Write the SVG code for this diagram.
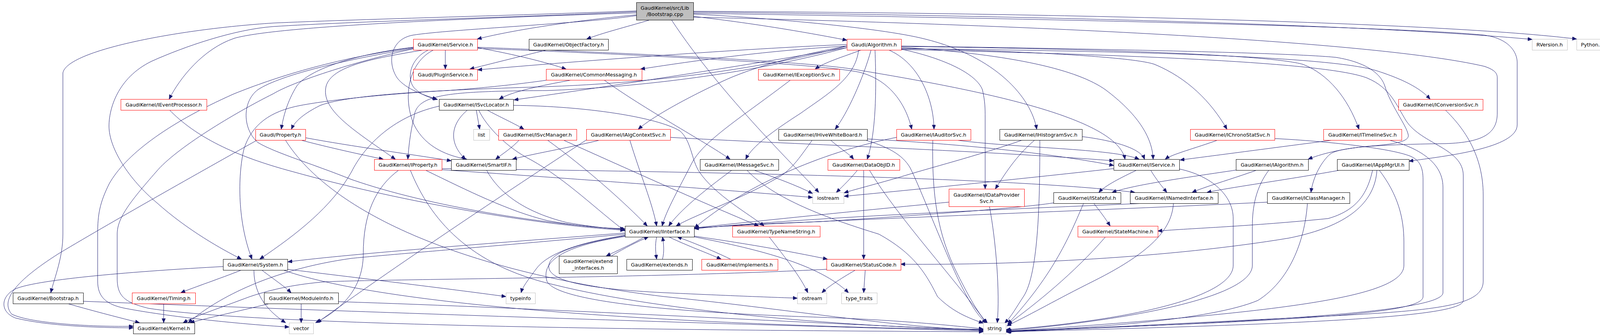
<svg xmlns="http://www.w3.org/2000/svg" width="4120" height="861" viewBox="0 0 4120 861">
<style>
.node rect{fill:#ffffff;stroke-width:1}
.r rect{stroke:#ff0000}
.k rect{stroke:#000000}
.g rect{stroke:#bfbfbf}
.root rect{fill:#bfbfbf;stroke:#000000}
text{font-family:"DejaVu Sans","Liberation Sans",sans-serif;font-size:12.8px;text-anchor:middle;fill:#000000}
#edges path{fill:none;stroke:#191970;stroke-width:1}
</style>
<defs>
<marker id="arr" markerWidth="12" markerHeight="10" refX="11" refY="4.5" orient="auto" markerUnits="userSpaceOnUse">
<path d="M0,0 L11,4.5 L0,9 z" fill="#191970" stroke="#191970" stroke-width="1"/>
</marker>
</defs>
<rect x="0" y="0" width="4120" height="861" fill="#ffffff"/>
<g id="edges" marker-end="url(#arr)">
<path marker-end="url(#arr)" d="M1629,38 C1450,55 1300,80 1222,100"/>
<path marker-end="url(#arr)" d="M1664,51 C1600,70 1540,85 1502,100"/>
<path marker-end="url(#arr)" d="M1775,42 C1950,62 2090,88 2168,103"/>
<path marker-end="url(#arr)" d="M1775,31 C2600,40 3500,62 3922,101"/>
<path marker-end="url(#arr)" d="M1775,29 C2700,33 3700,58 4036,100"/>
<path marker-end="url(#arr)" d="M1629,33 C1100,50 700,70 600,98 C520,125 460,200 433,254"/>
<path marker-end="url(#arr)" d="M1629,28 C1300,40 900,50 700,59 C450,75 170,130 161,187 L161,600 C161,660 140,710 130,750"/>
<path marker-end="url(#arr)" d="M1629,30 C1300,45 900,55 700,68 C600,75 470,120 388,157 C300,200 279,280 279,323 C279,380 330,460 402,520 C480,590 570,640 618,664"/>
<path marker-end="url(#arr)" d="M1629,40 C1500,60 1150,75 1057,90 C1000,100 990,160 1017,200 C1040,230 1090,245 1118,254"/>
<path marker-end="url(#arr)" d="M1719,51 C1850,250 2050,440 2096,493"/>
<path marker-end="url(#arr)" d="M1775,36 C1950,45 2250,70 2368,100 C2550,145 2640,250 2654,331"/>
<path marker-end="url(#arr)" d="M1775,34 C2800,50 3600,70 3800,90 C3870,100 3884,140 3884,160 L3884,320 C3884,380 3700,400 3607,413"/>
<path marker-end="url(#arr)" d="M1775,44 C2500,60 3500,100 3800,170 C3830,180 3833,190 3833,200 L3833,290 C3833,340 3800,365 3700,368 C3560,370 3430,375 3405,395 C3385,412 3362,450 3356,493"/>
<path marker-end="url(#arr)" d="M1140,128 L1140,177"/>
<path marker-end="url(#arr)" d="M1222,122 C1320,140 1400,160 1449,177"/>
<path marker-end="url(#arr)" d="M1097,128 C1050,150 1040,200 1060,225 C1080,245 1100,250 1120,255"/>
<path marker-end="url(#arr)" d="M1110,128 C1045,160 1030,250 1060,320 C1090,380 1150,400 1195,408"/>
<path marker-end="url(#arr)" d="M1085,128 C950,150 850,170 835,220 C820,280 900,330 1012,408"/>
<path marker-end="url(#arr)" d="M1058,121 C900,140 790,180 760,220 C735,260 725,300 720,331"/>
<path marker-end="url(#arr)" d="M1222,121 C1700,140 2100,160 2200,180 C2500,230 2860,300 2880,408"/>
<path marker-end="url(#arr)" d="M1222,124 C1700,142 2100,165 2200,185 C2280,205 2320,270 2334,331"/>
<path marker-end="url(#arr)" d="M1058,122 C850,150 700,200 600,240 C420,320 320,400 280,470 C255,520 250,550 250,600 L250,720 C250,760 270,780 320,790 C450,815 650,833 740,838"/>
<path marker-end="url(#arr)" d="M1058,125 C900,160 750,210 700,240 C600,290 450,380 400,440 C330,520 300,560 300,600 L300,713 C300,760 320,775 380,790 C700,840 2000,848 2517,850"/>
<path marker-end="url(#arr)" d="M1058,124 C900,150 720,190 660,230 C620,260 620,330 660,365 C700,390 800,420 900,460 C1100,530 1400,575 1599,588"/>
<path marker-end="url(#arr)" d="M1400,128 C1330,145 1250,165 1203,177"/>
<path marker-end="url(#arr)" d="M2168,114 C1900,125 1500,155 1223,179"/>
<path marker-end="url(#arr)" d="M2168,118 C1950,130 1750,160 1640,177"/>
<path marker-end="url(#arr)" d="M2205,128 C2160,145 2110,160 2087,177"/>
<path marker-end="url(#arr)" d="M2168,122 C1900,170 1500,230 1316,256"/>
<path marker-end="url(#arr)" d="M2168,118 C1900,190 1600,215 1400,222 C1150,230 900,240 820,270 C780,290 755,310 746,331"/>
<path marker-end="url(#arr)" d="M2168,122 C1900,195 1600,225 1400,232 C1150,234 1065,240 1060,300 C1050,340 1046,380 1044,408"/>
<path marker-end="url(#arr)" d="M2168,118 C2050,140 1930,170 1846,210 C1750,255 1670,300 1634,331"/>
<path marker-end="url(#arr)" d="M2230,128 C2210,200 2170,290 2138,331"/>
<path marker-end="url(#arr)" d="M2275,128 C2350,160 2390,250 2391,331"/>
<path marker-end="url(#arr)" d="M2240,128 C2245,250 2240,350 2220,408"/>
<path marker-end="url(#arr)" d="M2307,126 C2420,150 2500,190 2515,230 C2522,260 2522,280 2522,300 L2522,484"/>
<path marker-end="url(#arr)" d="M2198,128 C2190,200 2120,240 2050,290 C1980,335 1925,375 1909,408"/>
<path marker-end="url(#arr)" d="M2307,121 C2600,140 2760,180 2830,230 C2910,290 2950,350 2952,408"/>
<path marker-end="url(#arr)" d="M2307,124 C2600,130 2900,145 2956,165 C3040,200 3100,260 3141,331"/>
<path marker-end="url(#arr)" d="M2307,119 C2800,125 3250,140 3336,165 C3400,190 3450,250 3479,331"/>
<path marker-end="url(#arr)" d="M2307,125 C2900,130 3400,145 3520,180 C3600,205 3640,230 3661,254"/>
<path marker-end="url(#arr)" d="M2307,118 C2800,125 3300,135 3420,147 C3500,160 3535,190 3545,220 C3560,270 3600,320 3605,345 C3610,365 3560,370 3500,375 C3430,382 3380,395 3349,408"/>
<path marker-end="url(#arr)" d="M2307,127 C2900,140 3400,160 3500,200 C3560,225 3575,270 3600,310 C3640,370 3746,380 3746,450 L3746,770 C3746,810 3400,830 2578,850"/>
<path marker-end="url(#arr)" d="M1219,281 L1228,331"/>
<path marker-end="url(#arr)" d="M1245,281 C1280,300 1320,318 1341,331"/>
<path marker-end="url(#arr)" d="M1198,281 C1150,320 1150,370 1192,408"/>
<path marker-end="url(#arr)" d="M1225,281 C1245,325 1300,380 1360,410 C1450,460 1530,540 1600,592"/>
<path marker-end="url(#arr)" d="M1314,270 C1500,272 1680,300 1740,335 C1770,360 1770,410 1790,440 C1830,500 1920,550 1956,579"/>
<path marker-end="url(#arr)" d="M1124,272 C1000,300 930,380 900,440 C850,530 760,600 665,664"/>
<path marker-end="url(#arr)" d="M1330,358 C1310,380 1285,395 1269,408"/>
<path marker-end="url(#arr)" d="M1400,358 C1500,430 1600,520 1657,579"/>
<path marker-end="url(#arr)" d="M1440,358 C1600,430 1800,520 1942,579"/>
<path marker-end="url(#arr)" d="M1612,358 C1640,450 1670,520 1681,579"/>
<path marker-end="url(#arr)" d="M1540,358 C1450,380 1360,395 1312,408"/>
<path marker-end="url(#arr)" d="M1502,358 C1300,490 1000,690 812,827"/>
<path marker-end="url(#arr)" d="M1716,352 C2000,368 2500,385 2851,412"/>
<path marker-end="url(#arr)" d="M2025,204 C1900,300 1800,360 1770,420 C1740,480 1705,540 1695,579"/>
<path marker-end="url(#arr)" d="M1875,435 C1800,490 1740,540 1712,579"/>
<path marker-end="url(#arr)" d="M1927,435 C2000,460 2050,480 2080,496"/>
<path marker-end="url(#arr)" d="M1911,435 C1980,510 2120,560 2250,600 C2340,650 2370,700 2400,760 C2440,800 2480,815 2517,828"/>
<path marker-end="url(#arr)" d="M2080,358 C2050,400 2030,430 2000,450 C1900,510 1780,550 1731,579"/>
<path marker-end="url(#arr)" d="M2125,358 C2150,380 2175,395 2185,408"/>
<path marker-end="url(#arr)" d="M2212,358 C2270,375 2310,395 2330,430 C2360,490 2420,650 2460,730 C2490,790 2505,810 2525,828"/>
<path marker-end="url(#arr)" d="M2220,356 C2500,372 2700,395 2851,424"/>
<path marker-end="url(#arr)" d="M2440,358 C2600,380 2850,380 2916,408"/>
<path marker-end="url(#arr)" d="M2388,358 C2385,500 2400,600 2450,700 C2490,780 2510,810 2528,828"/>
<path marker-end="url(#arr)" d="M2295,352 C2100,390 1900,480 1778,584"/>
<path marker-end="url(#arr)" d="M2650,358 C2600,400 2570,450 2548,484"/>
<path marker-end="url(#arr)" d="M2620,358 C2500,400 2380,430 2300,455 C2230,475 2190,485 2161,494"/>
<path marker-end="url(#arr)" d="M2770,350 C2850,360 2920,380 2930,408"/>
<path marker-end="url(#arr)" d="M2662,358 C2662,500 2660,700 2620,760 C2600,790 2590,810 2572,828"/>
<path marker-end="url(#arr)" d="M2429,518 C2200,540 1950,565 1778,584"/>
<path marker-end="url(#arr)" d="M2533,529 C2550,620 2560,750 2553,827"/>
<path marker-end="url(#arr)" d="M2196,435 C2180,455 2160,475 2141,493"/>
<path marker-end="url(#arr)" d="M2211,435 L2211,664"/>
<path marker-end="url(#arr)" d="M2225,435 C2300,560 2450,720 2525,828"/>
<path marker-end="url(#arr)" d="M2912,435 C2870,455 2830,475 2813,493"/>
<path marker-end="url(#arr)" d="M2945,435 C2960,460 2975,478 2987,493"/>
<path marker-end="url(#arr)" d="M3019,433 C3100,450 3157,500 3157,560 L3157,680 C3157,760 2900,820 2575,845"/>
<path marker-end="url(#arr)" d="M2851,432 C2600,460 2300,490 2161,503"/>
<path marker-end="url(#arr)" d="M3170,435 C3000,460 2900,475 2847,493"/>
<path marker-end="url(#arr)" d="M3220,435 C3150,460 3080,480 3052,493"/>
<path marker-end="url(#arr)" d="M3249,435 C3215,480 3206,530 3206,580 L3206,680 C3206,760 2900,820 2576,847"/>
<path marker-end="url(#arr)" d="M3436,435 C3300,460 3150,480 3090,493"/>
<path marker-end="url(#arr)" d="M3514,435 C3500,500 3470,540 3400,560 C3200,580 3050,585 2964,592"/>
<path marker-end="url(#arr)" d="M3525,435 C3520,520 3450,580 3300,610 C3000,660 2600,680 2306,677"/>
<path marker-end="url(#arr)" d="M3530,435 C3580,500 3594,560 3594,620 L3594,680 C3594,760 3300,800 2576,849"/>
<path marker-end="url(#arr)" d="M2930,521 C2600,535 2100,555 1778,586"/>
<path marker-end="url(#arr)" d="M3004,521 C3000,580 2960,640 2800,720 C2700,770 2650,800 2578,835"/>
<path marker-end="url(#arr)" d="M2800,521 C2815,540 2830,560 2842,579"/>
<path marker-end="url(#arr)" d="M2697,520 C2600,535 2300,555 2100,568 C1950,573 1850,578 1778,586"/>
<path marker-end="url(#arr)" d="M2774,521 C2740,600 2700,700 2580,830"/>
<path marker-end="url(#arr)" d="M3244,518 C2800,540 2200,560 1778,584"/>
<path marker-end="url(#arr)" d="M3347,521 C3340,620 3300,720 3220,770 C3100,820 2800,840 2576,850"/>
<path marker-end="url(#arr)" d="M2830,607 C2750,700 2650,780 2580,831"/>
<path marker-end="url(#arr)" d="M1600,597 C1300,620 900,650 737,671"/>
<path marker-end="url(#arr)" d="M1600,600 C1300,628 1000,652 900,662 C700,690 560,760 482,827"/>
<path marker-end="url(#arr)" d="M1777,605 C1950,630 2050,650 2118,664"/>
<path marker-end="url(#arr)" d="M1600,604 C1480,625 1410,645 1405,680 C1400,720 1500,740 1700,750 C1850,757 1980,762 2041,764"/>
<path marker-end="url(#arr)" d="M1777,607 C1950,640 2100,680 2172,750"/>
<path marker-end="url(#arr)" d="M1600,603 C1480,622 1400,650 1372,690 C1350,720 1338,735 1334,750"/>
<path marker-end="url(#arr)" d="M1650,607 C1620,625 1585,640 1552,656"/>
<path marker-end="url(#arr)" d="M1681,607 C1676,630 1679,650 1681,664"/>
<path marker-end="url(#arr)" d="M1712,607 C1760,630 1810,648 1846,664"/>
<path marker-end="url(#arr)" d="M1565,656 C1600,635 1630,620 1660,607"/>
<path marker-end="url(#arr)" d="M1696,664 C1701,645 1699,625 1696,607"/>
<path marker-end="url(#arr)" d="M1870,664 C1820,640 1770,620 1734,607"/>
<path marker-end="url(#arr)" d="M1600,606 C1440,630 1385,670 1400,720 C1420,770 1700,800 2100,813 C2300,820 2450,835 2517,843"/>
<path marker-end="url(#arr)" d="M1969,607 C2010,660 2050,710 2068,750"/>
<path marker-end="url(#arr)" d="M2190,692 C2150,715 2120,735 2104,750"/>
<path marker-end="url(#arr)" d="M2215,692 L2211,750"/>
<path marker-end="url(#arr)" d="M2116,690 C1700,712 1000,715 834,722 C760,728 700,740 640,760 C560,790 500,810 469,827"/>
<path marker-end="url(#arr)" d="M173,778 C250,800 310,815 357,827"/>
<path marker-end="url(#arr)" d="M213,772 C800,795 1800,830 2517,848"/>
<path marker-end="url(#arr)" d="M419,778 L419,827"/>
<path marker-end="url(#arr)" d="M690,778 C600,800 530,815 487,827"/>
<path marker-end="url(#arr)" d="M771,778 L771,827"/>
<path marker-end="url(#arr)" d="M866,773 C1400,790 2000,825 2517,846"/>
<path marker-end="url(#arr)" d="M571,683 C350,695 100,715 40,740 C0,760 0,800 40,815 C120,835 250,840 341,840"/>
<path marker-end="url(#arr)" d="M618,692 C560,715 500,735 463,750"/>
<path marker-end="url(#arr)" d="M670,692 C700,715 730,735 745,750"/>
<path marker-end="url(#arr)" d="M650,692 C650,760 690,800 731,827"/>
<path marker-end="url(#arr)" d="M736,690 C900,710 1150,740 1295,760"/>
<path marker-end="url(#arr)" d="M725,692 C1000,790 1800,835 2517,845"/>
<path marker-end="url(#arr)" d="M660,358 C550,420 300,560 150,650 C40,720 0,770 30,805 C80,830 250,838 341,836"/>
<path marker-end="url(#arr)" d="M766,358 C850,380 920,395 981,408"/>
<path marker-end="url(#arr)" d="M782,353 C900,375 1050,395 1155,412"/>
<path marker-end="url(#arr)" d="M730,358 C850,550 1200,700 1700,760 C2000,790 2300,840 2517,846"/>
<path marker-end="url(#arr)" d="M1087,435 C1200,490 1300,540 1400,565 C1480,580 1550,585 1599,586"/>
<path marker-end="url(#arr)" d="M1131,435 C1500,460 1900,490 2080,506"/>
<path marker-end="url(#arr)" d="M1131,432 C1800,440 2600,455 2905,493"/>
<path marker-end="url(#arr)" d="M1022,435 C960,480 930,550 930,650 C930,750 860,800 808,827"/>
<path marker-end="url(#arr)" d="M1050,435 C1100,560 1200,680 1420,730 C1700,800 2200,840 2517,844"/>
<path marker-end="url(#arr)" d="M1245,435 C1280,500 1350,545 1450,570 C1520,582 1560,586 1599,587"/>
<path marker-end="url(#arr)" d="M1469,204 C1380,220 1310,235 1278,254"/>
<path marker-end="url(#arr)" d="M1545,204 C1650,280 1800,360 1869,408"/>
<path marker-end="url(#arr)" d="M1410,204 C1300,220 1200,228 1146,232 C1000,240 850,255 770,270 C690,285 645,320 625,380 C610,440 605,560 645,664"/>
<path marker-end="url(#arr)" d="M433,281 C500,350 600,400 750,440 C1000,510 1350,575 1599,590"/>
<path marker-end="url(#arr)" d="M3699,281 C3750,330 3797,400 3797,500 L3797,720 C3797,780 3700,795 3400,810 C3000,830 2700,845 2576,851"/>
<path marker-end="url(#arr)" d="M3120,358 C3060,380 3000,395 2983,408"/>
<path marker-end="url(#arr)" d="M3263,355 C3400,362 3560,380 3610,400 C3635,410 3643,430 3643,460 L3643,760 C3643,800 3400,820 2578,848"/>
<path marker-end="url(#arr)" d="M3420,358 C3250,380 3100,400 3021,410"/>
<path marker-end="url(#arr)" d="M3552,358 C3620,375 3694,410 3694,480 L3694,750 C3694,790 3400,820 2578,849"/>
</g>
<g id="n-root" class="node root"><rect x="1629.5" y="6.5" width="146" height="45"/><text x="1702" y="24.5">GaudiKernel/src/Lib</text><text x="1702" y="41">/Bootstrap.cpp</text></g>
<g id="n-service" class="node r"><rect x="1058.5" y="100.5" width="164" height="28"/><text x="1140" y="118.5">GaudiKernel/Service.h</text></g>
<g id="n-objfact" class="node k"><rect x="1354.5" y="100.5" width="203" height="28"/><text x="1455.5" y="118.5">GaudiKernel/ObjectFactory.h</text></g>
<g id="n-algo" class="node r"><rect x="2168.5" y="100.5" width="139" height="28"/><text x="2237.5" y="118.5">Gaudi/Algorithm.h</text></g>
<g id="n-rversion" class="node g"><rect x="3922.5" y="100.5" width="90" height="28"/><text x="3967" y="118.5">RVersion.h</text></g>
<g id="n-python" class="node g"><rect x="4036.5" y="100.5" width="79" height="28"/><text x="4075.5" y="118.5">Python.h</text></g>
<g id="n-plugin" class="node r"><rect x="1058.5" y="177.5" width="164" height="28"/><text x="1140" y="195.5">Gaudi/PluginService.h</text></g>
<g id="n-commsg" class="node r"><rect x="1398.5" y="177.5" width="245" height="28"/><text x="1520.5" y="195.5">GaudiKernel/CommonMessaging.h</text></g>
<g id="n-iexc" class="node r"><rect x="1941.5" y="177.5" width="208" height="28"/><text x="2045" y="195.5">GaudiKernel/IExceptionSvc.h</text></g>
<g id="n-ievent" class="node r"><rect x="309.5" y="254.5" width="220" height="28"/><text x="419" y="272.5">GaudiKernel/IEventProcessor.h</text></g>
<g id="n-isvcloc" class="node k"><rect x="1124.5" y="254.5" width="190" height="28"/><text x="1219" y="272.5">GaudiKernel/ISvcLocator.h</text></g>
<g id="n-iconv" class="node r"><rect x="3580.5" y="254.5" width="216" height="28"/><text x="3688" y="272.5">GaudiKernel/IConversionSvc.h</text></g>
<g id="n-prop" class="node r"><rect x="654.5" y="331.5" width="128" height="28"/><text x="718" y="349.5">Gaudi/Property.h</text></g>
<g id="n-list" class="node g"><rect x="1212.5" y="331.5" width="41" height="28"/><text x="1232.5" y="349.5">list</text></g>
<g id="n-isvcmgr" class="node r"><rect x="1276.5" y="331.5" width="200" height="28"/><text x="1376" y="349.5">GaudiKernel/ISvcManager.h</text></g>
<g id="n-ialgctx" class="node r"><rect x="1501.5" y="331.5" width="215" height="28"/><text x="1608.5" y="349.5">GaudiKernel/IAlgContextSvc.h</text></g>
<g id="n-ihive" class="node k"><rect x="1993.5" y="331.5" width="227" height="28"/><text x="2106.5" y="349.5">GaudiKernel/IHiveWhiteBoard.h</text></g>
<g id="n-iaud" class="node r"><rect x="2295.5" y="331.5" width="190" height="28"/><text x="2390" y="349.5">GaudiKernel/IAuditorSvc.h</text></g>
<g id="n-ihist" class="node k"><rect x="2559.5" y="331.5" width="211" height="28"/><text x="2664.5" y="349.5">GaudiKernel/IHistogramSvc.h</text></g>
<g id="n-ichrono" class="node r"><rect x="3047.5" y="331.5" width="216" height="28"/><text x="3155" y="349.5">GaudiKernel/IChronoStatSvc.h</text></g>
<g id="n-itime" class="node r"><rect x="3388.5" y="331.5" width="200" height="28"/><text x="3488" y="349.5">GaudiKernel/ITimelineSvc.h</text></g>
<g id="n-iprop" class="node r"><rect x="958.5" y="408.5" width="173" height="28"/><text x="1044.5" y="426.5">GaudiKernel/IProperty.h</text></g>
<g id="n-smartif" class="node k"><rect x="1155.5" y="408.5" width="166" height="28"/><text x="1238" y="426.5">GaudiKernel/SmartIF.h</text></g>
<g id="n-imsg" class="node k"><rect x="1792.5" y="408.5" width="201" height="28"/><text x="1892.5" y="426.5">GaudiKernel/IMessageSvc.h</text></g>
<g id="n-dataobj" class="node r"><rect x="2119.5" y="408.5" width="184" height="28"/><text x="2211" y="426.5">GaudiKernel/DataObjID.h</text></g>
<g id="n-iservice" class="node k"><rect x="2851.5" y="408.5" width="168" height="28"/><text x="2935" y="426.5">GaudiKernel/IService.h</text></g>
<g id="n-ialg" class="node k"><rect x="3164.5" y="408.5" width="185" height="28"/><text x="3256.5" y="426.5">GaudiKernel/IAlgorithm.h</text></g>
<g id="n-iappmgr" class="node k"><rect x="3423.5" y="408.5" width="184" height="28"/><text x="3515" y="426.5">GaudiKernel/IAppMgrUI.h</text></g>
<g id="n-iostream" class="node g"><rect x="2080.5" y="493.5" width="80" height="28"/><text x="2120" y="511.5">iostream</text></g>
<g id="n-idp" class="node r"><rect x="2429.5" y="484.5" width="193" height="45"/><text x="2525.5" y="503.5">GaudiKernel/IDataProvider</text><text x="2525.5" y="520">Svc.h</text></g>
<g id="n-istateful" class="node k"><rect x="2697.5" y="493.5" width="172" height="28"/><text x="2783" y="511.5">GaudiKernel/IStateful.h</text></g>
<g id="n-inamed" class="node k"><rect x="2893.5" y="493.5" width="225" height="28"/><text x="3005.5" y="511.5">GaudiKernel/INamedInterface.h</text></g>
<g id="n-iclass" class="node k"><rect x="3244.5" y="493.5" width="211" height="28"/><text x="3349.5" y="511.5">GaudiKernel/IClassManager.h</text></g>
<g id="n-iinterface" class="node k"><rect x="1600.5" y="579.5" width="177" height="28"/><text x="1688.5" y="597.5">GaudiKernel/IInterface.h</text></g>
<g id="n-typename" class="node r"><rect x="1875.5" y="579.5" width="224" height="28"/><text x="1987" y="597.5">GaudiKernel/TypeNameString.h</text></g>
<g id="n-statemach" class="node r"><rect x="2759.5" y="579.5" width="205" height="28"/><text x="2861.5" y="597.5">GaudiKernel/StateMachine.h</text></g>
<g id="n-system" class="node k"><rect x="571.5" y="664.5" width="165" height="28"/><text x="653.5" y="682.5">GaudiKernel/System.h</text></g>
<g id="n-extint" class="node k"><rect x="1431.5" y="656.5" width="149" height="45"/><text x="1505.5" y="674">GaudiKernel/extend</text><text x="1505.5" y="691">_interfaces.h</text></g>
<g id="n-extends" class="node k"><rect x="1604.5" y="664.5" width="168" height="28"/><text x="1688" y="682.5">GaudiKernel/extends.h</text></g>
<g id="n-implements" class="node r"><rect x="1796.5" y="664.5" width="195" height="28"/><text x="1893.5" y="682.5">GaudiKernel/implements.h</text></g>
<g id="n-statuscode" class="node r"><rect x="2116.5" y="664.5" width="190" height="28"/><text x="2211" y="682.5">GaudiKernel/StatusCode.h</text></g>
<g id="n-bootstrap" class="node k"><rect x="33.5" y="750.5" width="180" height="28"/><text x="123" y="768.5">GaudiKernel/Bootstrap.h</text></g>
<g id="n-timing" class="node r"><rect x="338.5" y="750.5" width="162" height="28"/><text x="419" y="768.5">GaudiKernel/Timing.h</text></g>
<g id="n-moduleinfo" class="node k"><rect x="676.5" y="750.5" width="190" height="28"/><text x="771" y="768.5">GaudiKernel/ModuleInfo.h</text></g>
<g id="n-typeinfo" class="node g"><rect x="1295.5" y="750.5" width="75" height="28"/><text x="1332.5" y="768.5">typeinfo</text></g>
<g id="n-ostream" class="node g"><rect x="2041.5" y="750.5" width="75" height="28"/><text x="2078.5" y="768.5">ostream</text></g>
<g id="n-typetraits" class="node g"><rect x="2154.5" y="750.5" width="91" height="28"/><text x="2199.5" y="768.5">type_traits</text></g>
<g id="n-kernel" class="node k"><rect x="341.5" y="827.5" width="157" height="28"/><text x="419.5" y="845.5">GaudiKernel/Kernel.h</text></g>
<g id="n-vector" class="node g"><rect x="740.5" y="827.5" width="62" height="28"/><text x="771" y="845.5">vector</text></g>
<g id="n-string" class="node g"><rect x="2517.5" y="827.5" width="58" height="28"/><text x="2546" y="845.5">string</text></g>
</svg>
